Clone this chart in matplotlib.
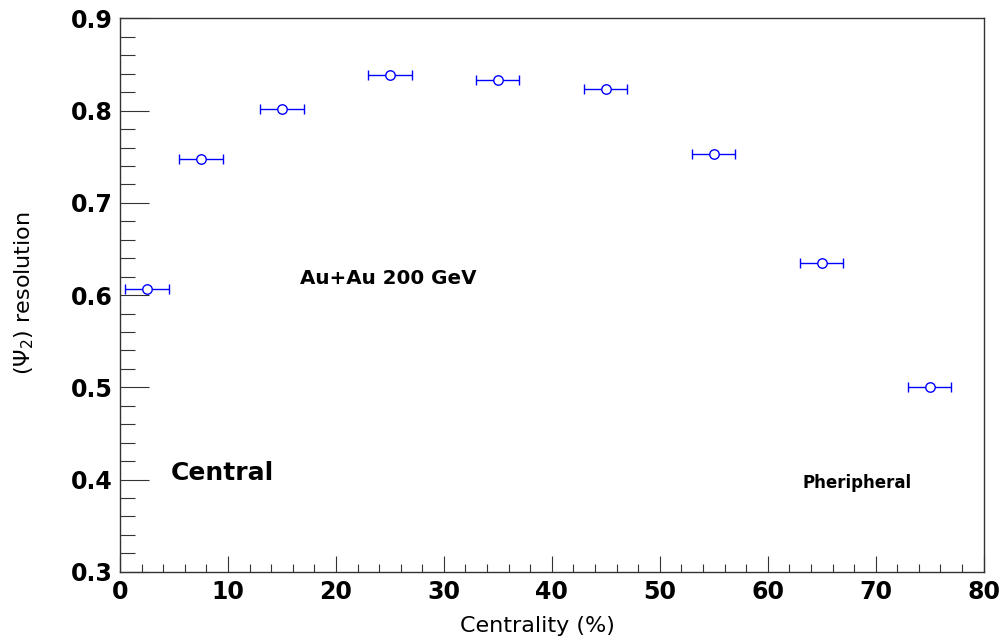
import numpy as np
import matplotlib
matplotlib.use("Agg")
import matplotlib.pyplot as plt
from matplotlib.ticker import MultipleLocator

# centrality bins (%) and event plane resolution
cent = [2.5, 7.5, 15, 25, 35, 45, 55, 65, 75]
cent_err = [2, 2, 2, 2, 2, 2, 2, 2, 2]
res = [0.607, 0.748, 0.802, 0.839, 0.833, 0.823, 0.753, 0.635, 0.500]

xticks = [0, 10, 20, 30, 40, 50, 60, 70, 80]
yticks = [0.3, 0.4, 0.5, 0.6, 0.7, 0.8, 0.9]

fig = plt.figure(figsize=(10.01, 6.4), dpi=100)
ax = fig.add_axes([0.1199, 0.1067, 0.8628, 0.8644])

ax.errorbar(cent, res, xerr=cent_err, fmt='o', mfc='white', mec='#0000ff',
            ms=6.8, mew=1.0, ecolor='#0000ff', elinewidth=1.0,
            capsize=3.6, capthick=1.3)

ax.set_xlim(0, 80)
ax.set_ylim(0.3, 0.9)

ax.set_xticks(xticks)
ax.set_yticks(yticks)
ax.xaxis.set_minor_locator(MultipleLocator(2))
ax.yaxis.set_minor_locator(MultipleLocator(0.02))
ax.set_xlim(0, 80)
ax.set_ylim(0.3, 0.9)

ax.tick_params(axis='both', which='both', direction='in', colors='#333333',
               width=0.8, top=False, right=False, labelcolor='black',
               labelsize=17)
ax.tick_params(axis='y', which='major', length=21, pad=5)
ax.tick_params(axis='y', which='minor', length=10.8)
ax.tick_params(axis='x', which='major', length=11.5, pad=6)
ax.tick_params(axis='x', which='minor', length=5.8)

for lab in ax.get_xticklabels() + ax.get_yticklabels():
    lab.set_fontweight('bold')

for sp in ax.spines.values():
    sp.set_color('#333333')
    sp.set_linewidth(1.0)

fig.text(537 / 1001, 1 - 626 / 640, 'Centrality (%)', fontsize=16,
         ha='center', va='center')
fig.text(24 / 1001, 1 - 293 / 640, r'$(\Psi_2)$ resolution', fontsize=16,
         rotation=90, ha='center', va='center')

ax.text(16.7, 0.6175, 'Au+Au 200 GeV', fontsize=14.3, fontweight='bold',
        ha='left', va='center')
ax.text(4.7, 0.4076, 'Central', fontsize=18, fontweight='bold',
        ha='left', va='center')
ax.text(63.2, 0.3967, 'Pheripheral', fontsize=12, fontweight='bold',
        ha='left', va='center')

fig.savefig('out.png', dpi=100)
